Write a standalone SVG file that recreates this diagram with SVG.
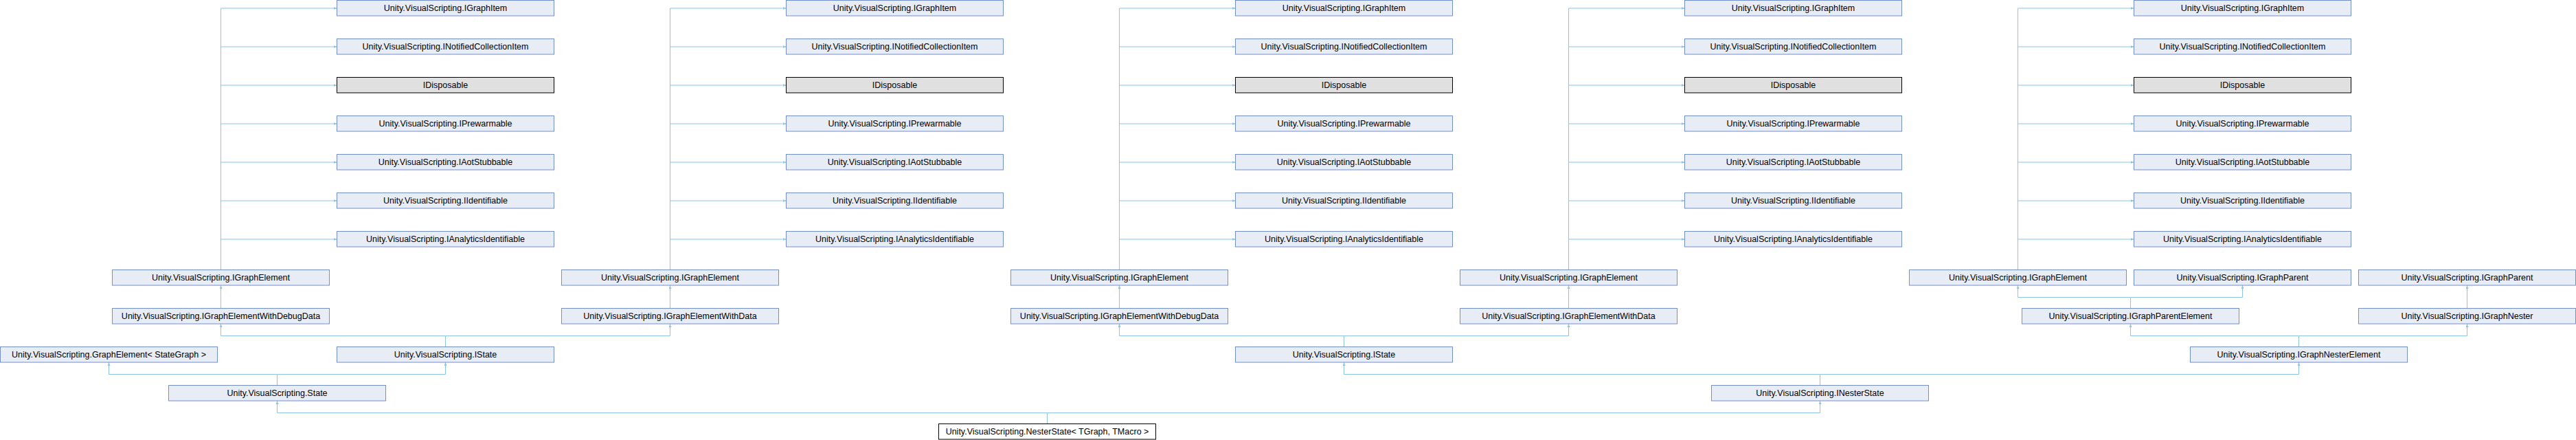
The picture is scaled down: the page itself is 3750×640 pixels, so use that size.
<svg xmlns="http://www.w3.org/2000/svg" width="3750" height="640" viewBox="0 0 3750 640">
<style>
.n rect{fill:#E8ECF5;stroke:#7490CB;stroke-width:1}
.x rect{fill:#E0E0E0;stroke:#000;stroke-width:1}
.c rect{fill:#FFFFFF;stroke:#000;stroke-width:1}
text{font-family:"Liberation Sans",Arial,Helvetica,sans-serif;font-size:12.5px;text-anchor:middle;fill:#000}
#edges path{fill:none;stroke:#8DC5E6;stroke-width:1;marker-end:url(#ah)}
</style>
<defs>
<marker id="ah" markerUnits="userSpaceOnUse" markerWidth="6" markerHeight="5" refX="5" refY="2" orient="auto">
<path d="M0,0 L5,2 L0,4 z" fill="#8DC5E6"/>
</marker>
</defs>
<rect width="3750" height="640" fill="#fff"/>
<g id="edges">
<!-- group 1 trunk -->
<path d="M321.5,392.5 V12 H490.5"/>
<path d="M321.5,392.5 V68 H490.5"/>
<path d="M321.5,392.5 V124 H490.5"/>
<path d="M321.5,392.5 V180 H490.5"/>
<path d="M321.5,392.5 V236 H490.5"/>
<path d="M321.5,392.5 V292 H490.5"/>
<path d="M321.5,392.5 V348 H490.5"/>
<!-- group 2 trunk -->
<path d="M975.5,392.5 V12 H1144.5"/>
<path d="M975.5,392.5 V68 H1144.5"/>
<path d="M975.5,392.5 V124 H1144.5"/>
<path d="M975.5,392.5 V180 H1144.5"/>
<path d="M975.5,392.5 V236 H1144.5"/>
<path d="M975.5,392.5 V292 H1144.5"/>
<path d="M975.5,392.5 V348 H1144.5"/>
<!-- group 3 trunk -->
<path d="M1629.5,392.5 V12 H1798.5"/>
<path d="M1629.5,392.5 V68 H1798.5"/>
<path d="M1629.5,392.5 V124 H1798.5"/>
<path d="M1629.5,392.5 V180 H1798.5"/>
<path d="M1629.5,392.5 V236 H1798.5"/>
<path d="M1629.5,392.5 V292 H1798.5"/>
<path d="M1629.5,392.5 V348 H1798.5"/>
<!-- group 4 trunk -->
<path d="M2283.5,392.5 V12 H2452.5"/>
<path d="M2283.5,392.5 V68 H2452.5"/>
<path d="M2283.5,392.5 V124 H2452.5"/>
<path d="M2283.5,392.5 V180 H2452.5"/>
<path d="M2283.5,392.5 V236 H2452.5"/>
<path d="M2283.5,392.5 V292 H2452.5"/>
<path d="M2283.5,392.5 V348 H2452.5"/>
<!-- group 5 trunk -->
<path d="M2937.5,392.5 V12 H3106.5"/>
<path d="M2937.5,392.5 V68 H3106.5"/>
<path d="M2937.5,392.5 V124 H3106.5"/>
<path d="M2937.5,392.5 V180 H3106.5"/>
<path d="M2937.5,392.5 V236 H3106.5"/>
<path d="M2937.5,392.5 V292 H3106.5"/>
<path d="M2937.5,392.5 V348 H3106.5"/>
<!-- with data -> IGraphElement -->
<path d="M321.5,448.5 V415"/>
<path d="M975.5,448.5 V415"/>
<path d="M1629.5,448.5 V415"/>
<path d="M2283.5,448.5 V415"/>
<!-- IState g1 -->
<path d="M648.5,504.5 V488.5 H321.5 V471"/>
<path d="M648.5,504.5 V488.5 H975.5 V471"/>
<!-- State -->
<path d="M403.5,560.5 V544.5 H158.5 V527"/>
<path d="M403.5,560.5 V544.5 H648.5 V527"/>
<!-- NesterState -->
<path d="M1524.5,616.5 V600.5 H403.5 V583"/>
<path d="M1524.5,616.5 V600.5 H2649.5 V583"/>
<!-- IState g3 -->
<path d="M1956.5,504.5 V488.5 H1629.5 V471"/>
<path d="M1956.5,504.5 V488.5 H2283.5 V471"/>
<!-- INesterState -->
<path d="M2649.5,560.5 V544.5 H1956.5 V527"/>
<path d="M2649.5,560.5 V544.5 H3346.5 V527"/>
<!-- IGraphNesterElement -->
<path d="M3346.5,504.5 V488.5 H3101.5 V471"/>
<path d="M3346.5,504.5 V488.5 H3591.5 V471"/>
<!-- IGraphParentElement -->
<path d="M3101.5,448.5 V432.5 H2937.5 V415"/>
<path d="M3101.5,448.5 V432.5 H3264.5 V415"/>
<!-- IGraphNester -->
<path d="M3591.5,448.5 V415"/>
</g>

<!-- group 1 -->
<g id="g1_IGraphItem" class="n"><rect x="490.5" y="0.5" width="316" height="22.5"/><text x="648.5" y="15.5">Unity.VisualScripting.IGraphItem</text></g>
<g id="g1_INotifiedCollectionItem" class="n"><rect x="490.5" y="56.5" width="316" height="22.5"/><text x="648.5" y="71.5">Unity.VisualScripting.INotifiedCollectionItem</text></g>
<g id="g1_IDisposable" class="x"><rect x="490.5" y="112.5" width="316" height="22.5"/><text x="648.5" y="127.5">IDisposable</text></g>
<g id="g1_IPrewarmable" class="n"><rect x="490.5" y="168.5" width="316" height="22.5"/><text x="648.5" y="183.5">Unity.VisualScripting.IPrewarmable</text></g>
<g id="g1_IAotStubbable" class="n"><rect x="490.5" y="224.5" width="316" height="22.5"/><text x="648.5" y="239.5">Unity.VisualScripting.IAotStubbable</text></g>
<g id="g1_IIdentifiable" class="n"><rect x="490.5" y="280.5" width="316" height="22.5"/><text x="648.5" y="295.5">Unity.VisualScripting.IIdentifiable</text></g>
<g id="g1_IAnalyticsIdentifiable" class="n"><rect x="490.5" y="336.5" width="316" height="22.5"/><text x="648.5" y="351.5">Unity.VisualScripting.IAnalyticsIdentifiable</text></g>
<g id="g1_IGraphElement" class="n"><rect x="163.5" y="392.5" width="316" height="22.5"/><text x="321.5" y="407.5">Unity.VisualScripting.IGraphElement</text></g>
<g id="g1_IGraphElementWithDebugData" class="n"><rect x="163.5" y="448.5" width="316" height="22.5"/><text x="321.5" y="463.5">Unity.VisualScripting.IGraphElementWithDebugData</text></g>
<g id="GraphElement_StateGraph" class="n"><rect x="0.5" y="504.5" width="316" height="22.5"/><text x="158.5" y="519.5">Unity.VisualScripting.GraphElement&lt; StateGraph &gt;</text></g>
<g id="g1_IState" class="n"><rect x="490.5" y="504.5" width="316" height="22.5"/><text x="648.5" y="519.5">Unity.VisualScripting.IState</text></g>
<g id="State" class="n"><rect x="245.5" y="560.5" width="316" height="22.5"/><text x="403.5" y="575.5">Unity.VisualScripting.State</text></g>

<!-- group 2 -->
<g id="g2_IGraphItem" class="n"><rect x="1144.5" y="0.5" width="316" height="22.5"/><text x="1302.5" y="15.5">Unity.VisualScripting.IGraphItem</text></g>
<g id="g2_INotifiedCollectionItem" class="n"><rect x="1144.5" y="56.5" width="316" height="22.5"/><text x="1302.5" y="71.5">Unity.VisualScripting.INotifiedCollectionItem</text></g>
<g id="g2_IDisposable" class="x"><rect x="1144.5" y="112.5" width="316" height="22.5"/><text x="1302.5" y="127.5">IDisposable</text></g>
<g id="g2_IPrewarmable" class="n"><rect x="1144.5" y="168.5" width="316" height="22.5"/><text x="1302.5" y="183.5">Unity.VisualScripting.IPrewarmable</text></g>
<g id="g2_IAotStubbable" class="n"><rect x="1144.5" y="224.5" width="316" height="22.5"/><text x="1302.5" y="239.5">Unity.VisualScripting.IAotStubbable</text></g>
<g id="g2_IIdentifiable" class="n"><rect x="1144.5" y="280.5" width="316" height="22.5"/><text x="1302.5" y="295.5">Unity.VisualScripting.IIdentifiable</text></g>
<g id="g2_IAnalyticsIdentifiable" class="n"><rect x="1144.5" y="336.5" width="316" height="22.5"/><text x="1302.5" y="351.5">Unity.VisualScripting.IAnalyticsIdentifiable</text></g>
<g id="g2_IGraphElement" class="n"><rect x="817.5" y="392.5" width="316" height="22.5"/><text x="975.5" y="407.5">Unity.VisualScripting.IGraphElement</text></g>
<g id="g2_IGraphElementWithData" class="n"><rect x="817.5" y="448.5" width="316" height="22.5"/><text x="975.5" y="463.5">Unity.VisualScripting.IGraphElementWithData</text></g>

<!-- group 3 -->
<g id="g3_IGraphItem" class="n"><rect x="1798.5" y="0.5" width="316" height="22.5"/><text x="1956.5" y="15.5">Unity.VisualScripting.IGraphItem</text></g>
<g id="g3_INotifiedCollectionItem" class="n"><rect x="1798.5" y="56.5" width="316" height="22.5"/><text x="1956.5" y="71.5">Unity.VisualScripting.INotifiedCollectionItem</text></g>
<g id="g3_IDisposable" class="x"><rect x="1798.5" y="112.5" width="316" height="22.5"/><text x="1956.5" y="127.5">IDisposable</text></g>
<g id="g3_IPrewarmable" class="n"><rect x="1798.5" y="168.5" width="316" height="22.5"/><text x="1956.5" y="183.5">Unity.VisualScripting.IPrewarmable</text></g>
<g id="g3_IAotStubbable" class="n"><rect x="1798.5" y="224.5" width="316" height="22.5"/><text x="1956.5" y="239.5">Unity.VisualScripting.IAotStubbable</text></g>
<g id="g3_IIdentifiable" class="n"><rect x="1798.5" y="280.5" width="316" height="22.5"/><text x="1956.5" y="295.5">Unity.VisualScripting.IIdentifiable</text></g>
<g id="g3_IAnalyticsIdentifiable" class="n"><rect x="1798.5" y="336.5" width="316" height="22.5"/><text x="1956.5" y="351.5">Unity.VisualScripting.IAnalyticsIdentifiable</text></g>
<g id="g3_IGraphElement" class="n"><rect x="1471.5" y="392.5" width="316" height="22.5"/><text x="1629.5" y="407.5">Unity.VisualScripting.IGraphElement</text></g>
<g id="g3_IGraphElementWithDebugData" class="n"><rect x="1471.5" y="448.5" width="316" height="22.5"/><text x="1629.5" y="463.5">Unity.VisualScripting.IGraphElementWithDebugData</text></g>
<g id="g3_IState" class="n"><rect x="1798.5" y="504.5" width="316" height="22.5"/><text x="1956.5" y="519.5">Unity.VisualScripting.IState</text></g>

<!-- group 4 -->
<g id="g4_IGraphItem" class="n"><rect x="2452.5" y="0.5" width="316" height="22.5"/><text x="2610.5" y="15.5">Unity.VisualScripting.IGraphItem</text></g>
<g id="g4_INotifiedCollectionItem" class="n"><rect x="2452.5" y="56.5" width="316" height="22.5"/><text x="2610.5" y="71.5">Unity.VisualScripting.INotifiedCollectionItem</text></g>
<g id="g4_IDisposable" class="x"><rect x="2452.5" y="112.5" width="316" height="22.5"/><text x="2610.5" y="127.5">IDisposable</text></g>
<g id="g4_IPrewarmable" class="n"><rect x="2452.5" y="168.5" width="316" height="22.5"/><text x="2610.5" y="183.5">Unity.VisualScripting.IPrewarmable</text></g>
<g id="g4_IAotStubbable" class="n"><rect x="2452.5" y="224.5" width="316" height="22.5"/><text x="2610.5" y="239.5">Unity.VisualScripting.IAotStubbable</text></g>
<g id="g4_IIdentifiable" class="n"><rect x="2452.5" y="280.5" width="316" height="22.5"/><text x="2610.5" y="295.5">Unity.VisualScripting.IIdentifiable</text></g>
<g id="g4_IAnalyticsIdentifiable" class="n"><rect x="2452.5" y="336.5" width="316" height="22.5"/><text x="2610.5" y="351.5">Unity.VisualScripting.IAnalyticsIdentifiable</text></g>
<g id="g4_IGraphElement" class="n"><rect x="2125.5" y="392.5" width="316" height="22.5"/><text x="2283.5" y="407.5">Unity.VisualScripting.IGraphElement</text></g>
<g id="g4_IGraphElementWithData" class="n"><rect x="2125.5" y="448.5" width="316" height="22.5"/><text x="2283.5" y="463.5">Unity.VisualScripting.IGraphElementWithData</text></g>
<g id="INesterState" class="n"><rect x="2491.5" y="560.5" width="316" height="22.5"/><text x="2649.5" y="575.5">Unity.VisualScripting.INesterState</text></g>

<!-- group 5 -->
<g id="g5_IGraphItem" class="n"><rect x="3106.5" y="0.5" width="316" height="22.5"/><text x="3264.5" y="15.5">Unity.VisualScripting.IGraphItem</text></g>
<g id="g5_INotifiedCollectionItem" class="n"><rect x="3106.5" y="56.5" width="316" height="22.5"/><text x="3264.5" y="71.5">Unity.VisualScripting.INotifiedCollectionItem</text></g>
<g id="g5_IDisposable" class="x"><rect x="3106.5" y="112.5" width="316" height="22.5"/><text x="3264.5" y="127.5">IDisposable</text></g>
<g id="g5_IPrewarmable" class="n"><rect x="3106.5" y="168.5" width="316" height="22.5"/><text x="3264.5" y="183.5">Unity.VisualScripting.IPrewarmable</text></g>
<g id="g5_IAotStubbable" class="n"><rect x="3106.5" y="224.5" width="316" height="22.5"/><text x="3264.5" y="239.5">Unity.VisualScripting.IAotStubbable</text></g>
<g id="g5_IIdentifiable" class="n"><rect x="3106.5" y="280.5" width="316" height="22.5"/><text x="3264.5" y="295.5">Unity.VisualScripting.IIdentifiable</text></g>
<g id="g5_IAnalyticsIdentifiable" class="n"><rect x="3106.5" y="336.5" width="316" height="22.5"/><text x="3264.5" y="351.5">Unity.VisualScripting.IAnalyticsIdentifiable</text></g>
<g id="g5_IGraphElement" class="n"><rect x="2779.5" y="392.5" width="316" height="22.5"/><text x="2937.5" y="407.5">Unity.VisualScripting.IGraphElement</text></g>
<g id="IGraphParent_1" class="n"><rect x="3106.5" y="392.5" width="316" height="22.5"/><text x="3264.5" y="407.5">Unity.VisualScripting.IGraphParent</text></g>
<g id="IGraphParent_2" class="n"><rect x="3433.5" y="392.5" width="316" height="22.5"/><text x="3591.5" y="407.5">Unity.VisualScripting.IGraphParent</text></g>
<g id="IGraphParentElement" class="n"><rect x="2943.5" y="448.5" width="316" height="22.5"/><text x="3101.5" y="463.5">Unity.VisualScripting.IGraphParentElement</text></g>
<g id="IGraphNester" class="n"><rect x="3433.5" y="448.5" width="316" height="22.5"/><text x="3591.5" y="463.5">Unity.VisualScripting.IGraphNester</text></g>
<g id="IGraphNesterElement" class="n"><rect x="3188.5" y="504.5" width="316" height="22.5"/><text x="3346.5" y="519.5">Unity.VisualScripting.IGraphNesterElement</text></g>

<!-- current class -->
<g id="NesterState" class="c"><rect x="1366.5" y="616.5" width="316" height="22.5"/><text x="1524.5" y="631.5">Unity.VisualScripting.NesterState&lt; TGraph, TMacro &gt;</text></g>
</svg>
